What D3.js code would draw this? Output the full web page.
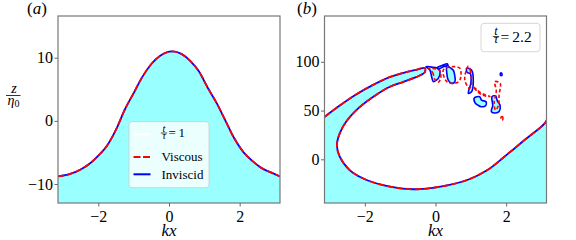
<html>
<head>
    <script src="https://d3js.org/d3.v7.min.js"></script>
    <style>
        body { margin: 0; background: #fff; }
        text { font-family: "Liberation Serif", "DejaVu Serif", serif; }
        .tick line { stroke: #666; stroke-width: 1; }
    </style>
</head>
<body>
    <svg class="chart" width="576" height="240"></svg>

    <script>

      // panel (a): interface at t/tau = 1
      var kxA = [-3.14, -2.8, -2.5, -2.25, -2.0, -1.75, -1.5, -1.25, -1.0, -0.75, -0.5, -0.25,
                 0.0, 0.1, 0.35, 0.6, 0.85, 1.1, 1.35, 1.6, 1.85, 2.1, 2.35, 2.6, 2.9, 3.14];
      var zViscousA = [-8.8, -8.4, -7.7, -6.8, -5.5, -3.9, -1.4, 1.8, 4.4, 7.0, 9.0, 10.3,
                       10.95, 11.0, 10.6, 9.5, 7.8, 5.2, 2.8, 0.0, -2.8, -4.9, -6.3, -7.4, -8.2, -8.8];
      var zInviscidA = [-8.8, -8.4, -7.7, -6.8, -5.5, -3.9, -1.4, 1.8, 4.4, 7.0, 9.0, 10.3,
                        10.95, 11.0, 10.6, 9.5, 7.8, 5.2, 2.8, 0.0, -2.8, -4.9, -6.3, -7.4, -8.2, -8.8];

      // panel (b): overturned wave at t/tau = 2.2, [kx, z] going left edge -> jet tip -> underside -> trough -> right edge
      var surfaceB = [[-3.14, 43.5], [-2.73, 54.6], [-2.26, 66.2], [-1.78, 76.1], [-1.3, 84.3],
                      [-0.83, 89.5], [-0.55, 91.8], [-0.4, 93.3], [-0.3, 93.5], [-0.3, 89.5], [-0.42, 86.4],
                      [-0.53, 84.6], [-0.91, 79.5], [-1.29, 74.4], [-1.76, 64.1], [-2.24, 50.5],
                      [-2.53, 38.5], [-2.71, 26.6], [-2.79, 14.5], [-2.71, 2.7], [-2.43, -11],
                      [-1.95, -21.2], [-1.29, -28], [-0.62, -30.7], [0.14, -28], [0.9, -21.2],
                      [1.47, -11], [1.95, 2.7], [2.52, 19.8], [3.09, 36.9], [3.2, 44]];

      var dropsInviscidB = [
        [[-0.27, 95], [-0.16, 91.6], [-0.11, 84.7], [-0.06, 79.6], [0.03, 81.3], [0.08, 83], [0.13, 89.9], [0.08, 93.3], [-0.06, 94.3]],
        [[0.05, 94], [0.2, 96.5], [0.33, 98], [0.35, 96.5], [0.22, 95], [0.08, 92.5]],
        [[0.32, 96.7], [0.41, 94], [0.5, 91.6], [0.55, 84.7], [0.55, 79.6], [0.46, 77.9], [0.36, 81.3], [0.32, 88.2]],
        [[0.88, 93.3], [1.02, 91.6], [1.07, 79.6], [1.02, 69.3], [0.93, 67.7], [0.95, 72], [1.0, 78], [0.98, 88], [0.9, 89]],
        [[1.1, 63], [1.25, 64.2], [1.3, 60.8], [1.43, 59], [1.42, 55], [1.3, 54], [1.2, 55.6], [1.12, 58]],
        [[1.84, 88.5], [1.87, 88.5], [1.88, 86], [1.84, 86]],
        [[1.6, 64.2], [1.7, 65], [1.75, 60], [1.83, 55], [1.8, 49], [1.7, 47.5], [1.58, 49], [1.62, 55]]
      ];

      var dropsViscousB = [
        [[-0.2, 93], [-0.08, 89], [-0.02, 82], [0.08, 79], [0.15, 84], [0.12, 91]],
        [[0.22, 91.6], [0.46, 95], [0.69, 93.3], [0.69, 81.3], [0.55, 77.9], [0.32, 79.6]],
        [[0.93, 95.7], [0.98, 91.6], [1.02, 77.9], [0.96, 72.8], [0.83, 81.3], [0.86, 90]],
        [[1.07, 74.4], [1.2, 70.5], [1.35, 67], [1.54, 64.5], [1.36, 65.5], [1.2, 69]],
        [[1.68, 79.6], [1.83, 78], [1.8, 66], [1.78, 55], [1.7, 50.5], [1.66, 58], [1.72, 70]],
        [[1.86, 43.5], [1.9, 43.5], [1.9, 40.5], [1.86, 40.5]]
      ];

      var xTicks = [-2, 0, 2];
      var yTicksA = [-10, 0, 10];
      var yTicksB = [0, 50, 100];

      var cyanFill = "#99ffff";
      var serif = '"Liberation Serif", "DejaVu Serif", serif';
      var plotTop = 16, plotBottom = 203;

      var svg = d3.select("svg");
      var fmt = d3.format("d");

      var xA = d3.scaleLinear().domain([-Math.PI, Math.PI]).range([58, 280]);
      var yA = d3.scaleLinear().domain([-13, 16.6]).range([plotBottom, plotTop]);
      var xB = d3.scaleLinear().domain([-Math.PI, Math.PI]).range([324.5, 546.5]);
      var yB = d3.scaleLinear().domain([-44.8, 147]).range([plotBottom, plotTop]);

      function clip(id, x) {
        svg.append("clipPath").attr("id", id).append("rect")
          .attr("x", x.range()[0]).attr("y", plotTop)
          .attr("width", x.range()[1] - x.range()[0]).attr("height", plotBottom - plotTop);
      }
      clip("clipA", xA);
      clip("clipB", xB);

      // ---- panel (a)
      var gA = svg.append("g").attr("clip-path", "url(#clipA)");
      var ptsV = kxA.map((k, i) => [k, zViscousA[i]]);
      var ptsI = kxA.map((k, i) => [k, zInviscidA[i]]);

      var areaA = d3.area().x(d => xA(d[0])).y0(yA(-13)).y1(d => yA(d[1])).curve(d3.curveMonotoneX);
      var lineA = d3.line().x(d => xA(d[0])).y(d => yA(d[1])).curve(d3.curveMonotoneX);

      gA.append("path").attr("d", areaA(ptsI)).attr("fill", cyanFill);
      gA.append("path").attr("d", lineA(ptsI)).attr("fill", "none")
        .attr("stroke", "#0000ff").attr("stroke-width", 1.8);
      gA.append("path").attr("d", lineA(ptsV)).attr("fill", "none")
        .attr("stroke", "#ff0000").attr("stroke-width", 1.8).attr("stroke-dasharray", "6.5,2.8");

      // ---- panel (b)
      var gB = svg.append("g").attr("clip-path", "url(#clipB)");
      var lineB = d3.line().x(d => xB(d[0])).y(d => yB(d[1])).curve(d3.curveCatmullRom.alpha(0.5));
      var blobB = d3.line().x(d => xB(d[0])).y(d => yB(d[1])).curve(d3.curveCatmullRomClosed.alpha(0.5));

      gB.append("path")
        .attr("d", lineB(surfaceB) + "L" + xB(3.3) + "," + yB(-44.8) + "L" + xB(-3.3) + "," + yB(-44.8) + "Z")
        .attr("fill", cyanFill);
      gB.selectAll(".dropfill").data(dropsInviscidB).enter().append("path")
        .attr("d", d => blobB(d)).attr("fill", cyanFill);

      gB.append("path").attr("d", lineB(surfaceB)).attr("fill", "none")
        .attr("stroke", "#0000ff").attr("stroke-width", 1.8);
      gB.selectAll(".dropI").data(dropsInviscidB).enter().append("path")
        .attr("d", d => blobB(d)).attr("fill", "none")
        .attr("stroke", "#0000ff").attr("stroke-width", 1.6);

      gB.append("path").attr("d", lineB(surfaceB)).attr("fill", "none")
        .attr("stroke", "#ff0000").attr("stroke-width", 1.8).attr("stroke-dasharray", "6.5,2.8");
      gB.selectAll(".dropV").data(dropsViscousB).enter().append("path")
        .attr("d", d => blobB(d)).attr("fill", "none")
        .attr("stroke", "#ff0000").attr("stroke-width", 1.6).attr("stroke-dasharray", "3.5,2.2");

      // ---- axes
      function styleTicks(g) {
        g.select(".domain").remove();
        g.attr("font-family", null).attr("font-size", null);
        g.selectAll("text").style("font-family", serif).style("font-size", "16px").attr("fill", "#000");
      }
      function axes(x, y, yTicks) {
        svg.append("g").attr("transform", "translate(0," + plotBottom + ")")
          .call(d3.axisBottom(x).tickValues(xTicks).tickFormat(fmt).tickSize(3.5).tickPadding(4))
          .call(styleTicks);
        svg.append("g").attr("transform", "translate(" + x.range()[0] + ",0)")
          .call(d3.axisLeft(y).tickValues(yTicks).tickFormat(fmt).tickSize(3.5).tickPadding(1.5))
          .call(styleTicks);
        svg.append("rect")
          .attr("x", x.range()[0]).attr("y", plotTop)
          .attr("width", x.range()[1] - x.range()[0]).attr("height", plotBottom - plotTop)
          .attr("fill", "none").attr("stroke", "#777").attr("stroke-width", 1.2);
        svg.append("text").attr("x", (x.range()[0] + x.range()[1]) / 2).attr("y", 236)
          .attr("text-anchor", "middle").style("font-size", "17px").style("font-style", "italic")
          .text("kx");
      }
      axes(xA, yA, yTicksA);
      axes(xB, yB, yTicksB);

      // panel tags
      function tag(x, letter) {
        var t = svg.append("text").attr("x", x).attr("y", 14).style("font-size", "17px");
        t.append("tspan").text("(");
        t.append("tspan").style("font-style", "italic").text(letter);
        t.append("tspan").text(")");
      }
      tag(27, "a");
      tag(297, "b");

      // y label z / eta_0
      svg.append("text").attr("x", 14).attr("y", 92.5).attr("text-anchor", "middle")
        .style("font-size", "14px").style("font-style", "italic").text("z");
      svg.append("line").attr("x1", 6).attr("x2", 20.5).attr("y1", 95.5).attr("y2", 95.5)
        .attr("stroke", "#000").attr("stroke-width", 0.8);
      var eta = svg.append("text").attr("x", 13.5).attr("y", 104.5).attr("text-anchor", "middle")
        .style("font-size", "14px");
      eta.append("tspan").style("font-style", "italic").text("η");
      eta.append("tspan").style("font-size", "10px").attr("dy", 2).text("0");

      // fraction t / tau followed by "= value"
      function tfrac(cx, barY, size, value) {
        svg.append("text").attr("x", cx).attr("y", barY - 1.4).attr("text-anchor", "middle")
          .style("font-size", (size * 0.8) + "px").style("font-style", "italic").text("t");
        svg.append("line").attr("x1", cx - 3.2).attr("x2", cx + 3.2).attr("y1", barY).attr("y2", barY)
          .attr("stroke", "#000").attr("stroke-width", 0.7);
        svg.append("text").attr("x", cx).attr("y", barY + 6).attr("text-anchor", "middle")
          .style("font-size", (size * 0.8) + "px").style("font-style", "italic").text("τ");
        svg.append("text").attr("x", cx + 4.5).attr("y", barY + size * 0.33)
          .style("font-size", size + "px").text("=\u2009" + value);
      }

      // legend (a)
      svg.append("rect").attr("x", 129).attr("y", 121.7).attr("width", 80).attr("height", 66)
        .attr("rx", 3).attr("fill", "#fff").attr("fill-opacity", 0.8)
        .attr("stroke", "#ccc").attr("stroke-width", 0.8);
      var rows = [{y: 134.3, color: "#fff", dash: null, label: null},
                  {y: 157, color: "#ff0000", dash: "7,2.5", label: "Viscous"},
                  {y: 174.3, color: "#0000ff", dash: null, label: "Inviscid"}];
      rows.forEach(r => {
        svg.append("line").attr("x1", 133.5).attr("x2", 150.5).attr("y1", r.y).attr("y2", r.y)
          .attr("stroke", r.color).attr("stroke-width", 2).attr("stroke-dasharray", r.dash);
        if (r.label) {
          svg.append("text").attr("x", 161.5).attr("y", r.y + 4.3).style("font-size", "13px").text(r.label);
        }
      });
      tfrac(164, 133, 13, "1");

      // legend (b)
      svg.append("rect").attr("x", 481).attr("y", 23.3).attr("width", 59).attr("height", 28.4)
        .attr("rx", 3).attr("fill", "#fff").attr("fill-opacity", 0.8)
        .attr("stroke", "#ccc").attr("stroke-width", 0.8);
      tfrac(496, 36.5, 15.5, "2.2");

    </script>
</body>
</html>
